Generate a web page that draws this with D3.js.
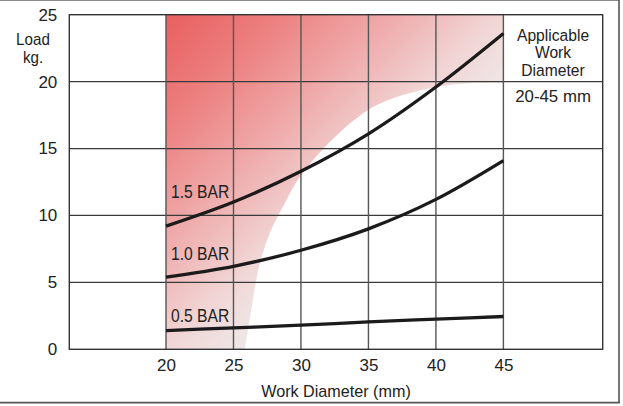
<!DOCTYPE html>
<html>
<head>
<meta charset="utf-8">
<script src="https://cdn.jsdelivr.net/npm/d3@7"></script>
<style>
  body { margin: 0; background: #fff; }
  text { font-family: "Liberation Sans", Arial, sans-serif; fill: #222; }
</style>
</head>
<body>
<div id="chart"></div>
<script>
// data
const diameters = [20, 25, 30, 35, 40, 45];
const xTicks = [20, 25, 30, 35, 40, 45];
const yTicks = [0, 5, 10, 15, 20, 25];
const series = [
  { name: "1.5 BAR", load: [9.2, 11.0, 13.3, 16.1, 19.6, 23.6], labelLoad: 11.3 },
  { name: "1.0 BAR", load: [5.4, 6.2, 7.4, 9.0, 11.2, 14.1], labelLoad: 6.7 },
  { name: "0.5 BAR", load: [1.4, 1.6, 1.8, 2.05, 2.25, 2.45], labelLoad: 2.05 }
];
// lower edge of the shaded "applicable" zone, [diameter, load]
const shadeEdge = [
  [25.85, 0], [26.44, 3.7], [26.9, 6.2], [27.7, 8.7], [28.95, 11.2],
  [29.8, 12.7], [32.15, 15.5], [35.0, 17.9], [37.1, 18.85],
  [40.05, 19.6], [42.5, 19.88], [45, 19.9]
];
const legendLines = ["Applicable", "Work", "Diameter"];
const legendRange = "20-45 mm";

const W = 623, H = 406;
const plotLeft = 69.3, plotRight = 602.7;

const svg = d3.select("#chart").append("svg")
  .attr("width", W).attr("height", H);

const x = d3.scaleLinear().domain([20, 45]).range([166, 503.4]);
const y = d3.scaleLinear().domain([0, 25]).range([349.3, 14.7]);

// outer frame
svg.append("line").attr("x1", 0).attr("x2", 619).attr("y1", 0.5).attr("y2", 0.5)
  .attr("stroke", "#888").attr("stroke-width", 1);
svg.append("line").attr("x1", 619).attr("x2", 619).attr("y1", 0).attr("y2", 403)
  .attr("stroke", "#555").attr("stroke-width", 1.6);
svg.append("line").attr("x1", 0).attr("x2", 619.8).attr("y1", 402.6).attr("y2", 402.6)
  .attr("stroke", "#555").attr("stroke-width", 1.6);

// gradient for the shaded zone
const grad = svg.append("defs").append("linearGradient")
  .attr("id", "zone").attr("gradientUnits", "userSpaceOnUse")
  .attr("x1", x(20)).attr("y1", y(25))
  .attr("x2", x(20) + 300).attr("y2", y(25) + 300);
[[0, "#e85f5f"], [0.18, "#ec7e7e"], [0.36, "#efa6a6"], [0.56, "#f1d6d6"],
 [0.7, "#eeeaea"], [1, "#f2f2f2"]].forEach(s =>
  grad.append("stop").attr("offset", s[0]).attr("stop-color", s[1]));

const edge = d3.line()
  .x(d => x(d[0])).y(d => y(d[1]))
  .curve(d3.curveCatmullRom.alpha(0.5))(shadeEdge);
svg.append("path")
  .attr("d", edge + `L${x(45)},${y(25)}L${x(20)},${y(25)}L${x(20)},${y(0)}Z`)
  .attr("fill", "url(#zone)");

// grid
const grid = svg.append("g");
grid.selectAll(".h").data(yTicks.slice(1, -1)).join("line")
  .attr("x1", plotLeft).attr("x2", plotRight)
  .attr("y1", d => y(d)).attr("y2", d => y(d))
  .attr("stroke", "#3a3a3a").attr("stroke-width", 1.3);
grid.selectAll(".v").data(xTicks).join("line")
  .attr("x1", d => x(d)).attr("x2", d => x(d))
  .attr("y1", y(25)).attr("y2", y(0))
  .attr("stroke", "#555").attr("stroke-width", 1.4);
grid.append("rect")
  .attr("x", plotLeft).attr("y", y(25))
  .attr("width", plotRight - plotLeft).attr("height", y(0) - y(25))
  .attr("fill", "none").attr("stroke", "#333").attr("stroke-width", 1.4);

// axes (labels only)
const yAxis = svg.append("g").attr("transform", `translate(${plotLeft},0)`)
  .call(d3.axisLeft(y).tickValues(yTicks).tickSize(0).tickPadding(12));
const xAxis = svg.append("g").attr("transform", `translate(0,${y(0)})`)
  .call(d3.axisBottom(x).tickValues(xTicks).tickSize(0).tickPadding(10));
[yAxis, xAxis].forEach(a => {
  a.select(".domain").remove();
  a.selectAll("text").attr("font-size", 17)
    .attr("font-family", "Liberation Sans, Arial, sans-serif").attr("fill", "#222");
});

// text helper, slightly condensed like the original face
function label(str, tx, ty, size, sx, anchor) {
  svg.append("text")
    .attr("transform", `translate(${tx},${ty}) scale(${sx},1)`)
    .attr("text-anchor", anchor || "middle")
    .attr("font-size", size)
    .text(str);
}

label("Load", 33, 44.5, 16.5, 0.92);
label("kg.", 33, 63, 16.5, 0.92);
label("Work Diameter (mm)", (plotLeft + plotRight) / 2, 397, 17, 0.95);

const legX = (x(45) + plotRight) / 2;
legendLines.forEach((t, i) => label(t, legX, 40.5 + i * 17.6, 17, 0.92));
label(legendRange, legX, 102, 17, 0.99);

// pressure curves
const line = d3.line()
  .x((d, i) => x(diameters[i])).y(d => y(d))
  .curve(d3.curveMonotoneX);
svg.append("g").selectAll("path").data(series).join("path")
  .attr("d", d => line(d.load))
  .attr("fill", "none").attr("stroke", "#1c1a1a").attr("stroke-width", 3.3);

series.forEach(s => label(s.name, x(20) + 5, y(s.labelLoad), 18, 0.87, "start"));
</script>
</body>
</html>
